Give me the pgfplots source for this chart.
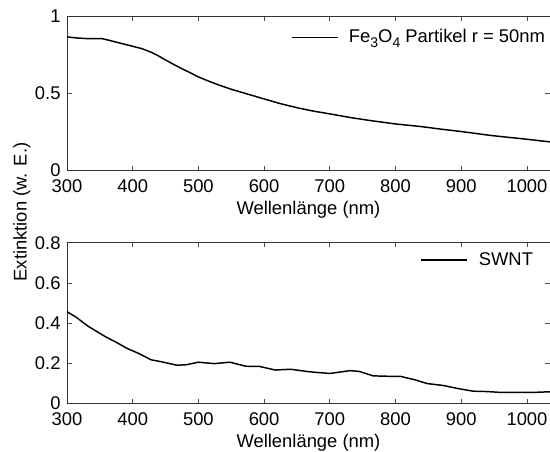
\documentclass[border=0pt]{standalone}
\usepackage{pgfplots}
\pgfplotsset{compat=1.18}
\usepackage{fontspec}
\setmainfont{Liberation Sans}
\pgfplotsset{
  myaxis/.style={
    scale only axis, width=362.3pt,
    xmin=300, xmax=1035,
    xtick={300,400,500,600,700,800,900,1000},
    tick align=inside, tick pos=both,
    major tick length=3.5pt,
    axis line style={black!80, line width=0.6pt},
    every tick/.style={black!70, line width=0.6pt},
    /pgf/number format/assume math mode=true,
    /pgf/number format/1000 sep={},
    font=\fontsize{13.8pt}{16pt}\selectfont,
    xlabel={Wellenlänge (nm)},
    xlabel style={at={(axis description cs:0.5,0)}, anchor=center, yshift=-29.5pt},
    xticklabel style={yshift=-2pt},
    legend style={draw=none, fill=none, inner sep=0pt, outer sep=0pt, anchor=east, nodes={inner sep=0pt}, column sep=8pt, font=\fontsize{13.8pt}{16pt}\selectfont},
    legend image code/.code={\draw[##1, line width=1.1pt] (0pt,0pt) -- (34.5pt,0pt);},
  }
}
\pgfplotstableread{
x y
300 0.865
315 0.858
330 0.854
353 0.854
365 0.842
375 0.831
390 0.815
401 0.803
414 0.789
428 0.766
438 0.745
449 0.718
462 0.688
476 0.657
490 0.628
500 0.606
515 0.580
529 0.557
551 0.525
575 0.495
599 0.465
625 0.433
652 0.405
675 0.385
699 0.368
732 0.343
760 0.325
786 0.310
800 0.302
839 0.285
870 0.268
900 0.253
946 0.227
1000 0.203
1035 0.186
}\fe
\pgfplotstableread{
x y
300 0.457
313 0.432
332 0.385
359 0.332
375 0.305
393 0.272
409 0.250
428 0.218
444 0.208
467 0.191
481 0.193
500 0.206
524 0.199
548 0.206
572 0.186
593 0.185
617 0.167
640 0.171
670 0.158
700 0.150
731 0.164
745 0.160
766 0.138
790 0.136
807 0.136
830 0.118
848 0.100
873 0.090
895 0.075
918 0.062
940 0.060
959 0.056
1010 0.056
1035 0.059
}\swnt
\newcommand{\sub}[1]{\raisebox{-0.45ex}{\fontsize{10.5pt}{12pt}\selectfont #1}}
\begin{document}
\fontsize{13.8pt}{16pt}\selectfont
\begin{tikzpicture}
\useasboundingbox (-50.2pt,12pt) rectangle (362.3pt,-327pt);
\begin{axis}[myaxis, at={(0,0)}, anchor=north west, height=116pt,
  ymin=0, ymax=1, ytick={0,0.5,1},
  legend style={at={(rel axis cs:0.9897,0.861)}}]
\addplot[black, line width=1.1pt] table[x=x,y=y]{\fe};
\addlegendentry{Fe\sub{3}O\sub{4} Partikel r = 50nm}
\end{axis}
\begin{axis}[myaxis, at={(0,-170pt)}, anchor=north west, height=120.75pt,
  ymin=0, ymax=0.8, ytick={0,0.2,0.4,0.6,0.8},
  legend style={at={(rel axis cs:0.9648,0.8925)}}]
\addplot[black, line width=1.1pt] table[x=x,y=y]{\swnt};
\addlegendentry{SWNT}
\end{axis}
\node[rotate=90, anchor=center] at (-33.8pt,-147pt) {Extinktion (w. E.)};
\end{tikzpicture}
\end{document}
